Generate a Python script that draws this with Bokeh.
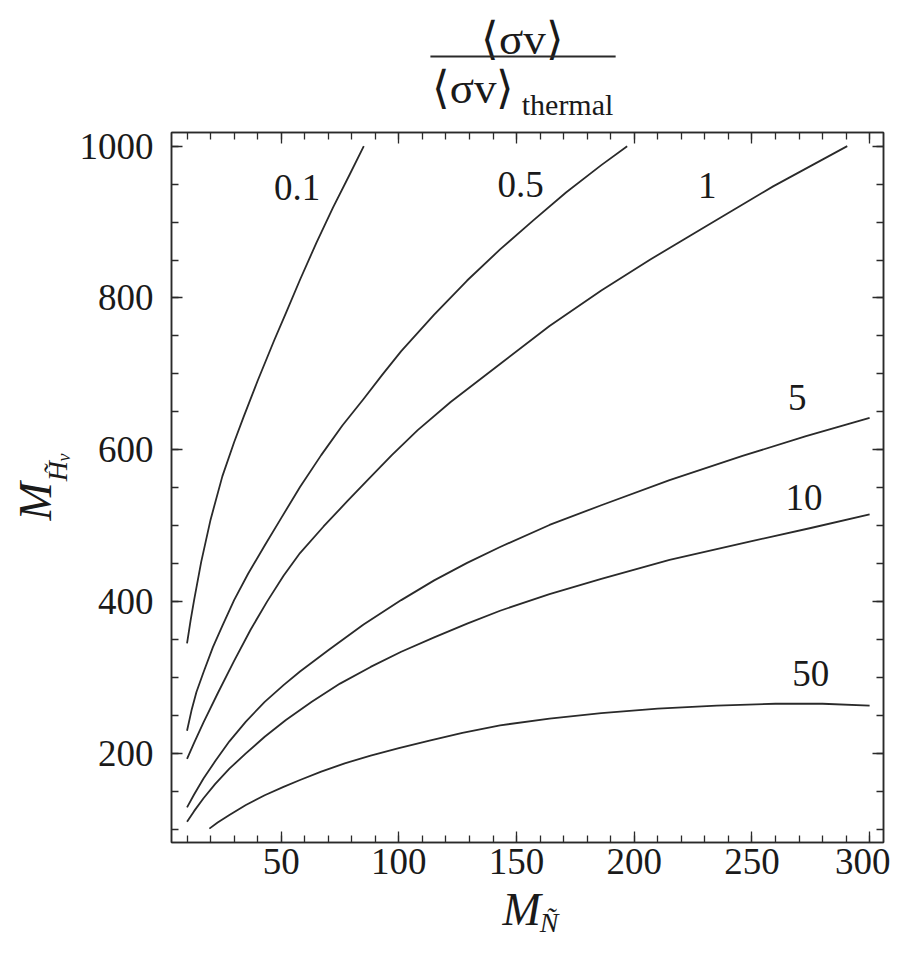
import math
from bokeh.plotting import figure
from bokeh.models import ColumnDataSource, LinearAxis, FixedTicker, Range1d
from bokeh.layouts import column, row
from bokeh.embed import file_html
from bokeh.resources import INLINE
from bokeh.core.properties import value

FONT = "Liberation Serif"
INK = "#2a2a2a"
TXT = "#1a1a1a"

# ---- data (M_N on x, M_H on y), one list pair per contour ----
x_01 = [10, 11.5, 13, 16, 20, 25, 30, 34, 40, 47, 52, 58, 65, 72, 79, 85.1]
y_01 = [345, 375, 402, 452, 508, 565, 610, 643, 691, 744, 780, 824, 873, 919, 962, 1000]

x_05 = [10, 12, 14, 17, 21, 25, 30, 36, 43, 50, 58, 67, 76, 85, 93, 101, 115, 129, 143, 157, 171, 186, 197]
y_05 = [230, 258, 281, 307, 340, 368, 402, 437, 474, 510, 551, 593, 632, 667, 699, 730, 778, 823, 864, 902, 939, 975, 1000]

x_1 = [10, 13, 17, 23, 30, 37, 44, 51, 58, 68, 78, 87, 97, 108, 122, 143, 164, 186, 207, 228, 259, 290.5]
y_1 = [193, 214, 241, 279, 322, 363, 400, 434, 464, 499, 532, 561, 593, 626, 663, 713, 763, 810, 851, 890, 947, 1000]

x_5 = [10, 13, 17, 22, 28, 35, 43, 51, 58, 70, 85, 101, 115, 129, 143, 164, 186, 215, 246, 273, 300]
y_5 = [129, 146, 167, 190, 216, 242, 268, 290, 308, 336, 370, 402, 428, 451, 472, 501, 527, 560, 592, 618, 642]

x_10 = [10, 13, 17, 22, 28, 35, 43, 52, 63, 75, 88, 101, 115, 129, 143, 164, 186, 215, 249, 275, 300]
y_10 = [110, 124, 141, 160, 180, 200, 222, 244, 268, 292, 314, 334, 353, 371, 388, 410, 430, 455, 479, 497, 515]

x_50 = [19.5, 23, 28, 35, 43, 51, 58, 67, 77, 88, 100, 113, 127, 143, 164, 186, 210, 235, 260, 280, 300]
y_50 = [101, 109, 119, 132, 145, 156, 165, 176, 187, 197, 207, 217, 227, 237, 246, 253, 259, 263, 265.5, 265.5, 263]

curve_labels = ["0.1", "0.5", "1", "5", "10", "50"]
label_x = [56.8, 151.7, 231, 269.3, 272.1, 275]
label_y = [946, 950, 948, 669, 537.5, 305]

x_major = [50, 100, 150, 200, 250, 300]
x_minor = list(range(10, 310, 10))
y_major = [200, 400, 600, 800, 1000]
y_minor = list(range(100, 1050, 50))

X_RANGE = (3.4, 305.9)
Y_RANGE = (82.7, 1018)

FW, FH = 712, 710
LEFT, RIGHT = 171, 7
YLAB_W = 74
TITLE_H = 124
TOP_B = 132 - TITLE_H
BOT_B = 40
XLAB_H = 60

# ---- title strip (fraction) ----
t = figure(frame_width=FW, frame_height=TITLE_H, x_range=Range1d(*X_RANGE), y_range=Range1d(0, TITLE_H),
           output_backend="svg", toolbar_location=None,
           min_border_left=LEFT, min_border_right=RIGHT, min_border_top=0, min_border_bottom=0,
           x_axis_location=None, y_axis_location=None, outline_line_color=None)
t.xgrid.grid_line_color = None
t.ygrid.grid_line_color = None
t.text(x=[152.5], y=[86], text=["⟨σv⟩"], text_font=value(FONT), text_font_size="45px",
       text_align="center", text_baseline="middle", text_color=TXT)
t.segment(x0=[113.4], y0=[68], x1=[192.1], y1=[68], line_color=INK, line_width=2)
t.text(x=[131.5], y=[37], text=["⟨σv⟩"], text_font=value(FONT), text_font_size="45px",
       text_align="center", text_baseline="middle", text_color=TXT)
t.text(x=[152.2], y=[20], text=["thermal"], text_font=value(FONT), text_font_size="30px",
       text_align="left", text_baseline="alphabetic", text_color=TXT)

# ---- y label strip ----
yl_fig = figure(frame_width=YLAB_W, frame_height=FH, x_range=Range1d(0, YLAB_W), y_range=Range1d(*Y_RANGE),
                output_backend="svg", toolbar_location=None,
                min_border_left=0, min_border_right=0, min_border_top=TOP_B, min_border_bottom=BOT_B,
                x_axis_location=None, y_axis_location=None, outline_line_color=None)
yl_fig.xgrid.grid_line_color = None
yl_fig.ygrid.grid_line_color = None
yl_fig.text(x=[35], y=[532], text=["M"], text_font=value(FONT), text_font_style="italic",
            text_font_size="46px", text_align="center", text_baseline="middle", angle=math.pi / 2, text_color=TXT)
yl_fig.text(x=[57], y=[572], text=["H̃"], text_font=value(FONT), text_font_style="italic",
            text_font_size="28px", text_align="center", text_baseline="middle", angle=math.pi / 2, text_color=TXT)
yl_fig.text(x=[63], y=[590], text=["ν"], text_font=value(FONT), text_font_style="italic",
            text_font_size="18px", text_align="center", text_baseline="middle", angle=math.pi / 2, text_color=TXT)

# ---- main figure ----
p = figure(frame_width=FW, frame_height=FH, x_range=Range1d(*X_RANGE), y_range=Range1d(*Y_RANGE),
           output_backend="svg", toolbar_location=None,
           min_border_left=LEFT - YLAB_W, min_border_right=RIGHT, min_border_top=TOP_B, min_border_bottom=BOT_B,
           outline_line_color=INK, outline_line_width=1.5)
p.xgrid.grid_line_color = None
p.ygrid.grid_line_color = None

def style(ax, ticks, minor, show):
    ax.ticker = FixedTicker(ticks=ticks, minor_ticks=minor)
    ax.major_tick_in = 11
    ax.major_tick_out = 0
    ax.minor_tick_in = 7
    ax.minor_tick_out = 0
    ax.axis_line_color = INK
    ax.axis_line_width = 1.5
    ax.major_tick_line_color = INK
    ax.major_tick_line_width = 1.3
    ax.minor_tick_line_color = INK
    ax.minor_tick_line_width = 1.3
    ax.major_label_text_font = FONT
    ax.major_label_text_color = TXT
    ax.major_label_text_font_size = "37px"
    if not show:
        ax.major_label_overrides = {tk: "" for tk in ticks}
        ax.major_label_text_font_size = "1px"
        ax.major_label_standoff = 0

xb = p.xaxis[0]
style(xb, x_major, x_minor, True)
xb.major_label_standoff = 6
yb = p.yaxis[0]
style(yb, y_major, y_minor, True)
yb.major_label_standoff = 18

xt = LinearAxis()
style(xt, x_major, x_minor, False)
p.add_layout(xt, "above")
yr = LinearAxis()
style(yr, y_major, y_minor, False)
p.add_layout(yr, "right")

for xs, ys in [(x_01, y_01), (x_05, y_05), (x_1, y_1), (x_5, y_5), (x_10, y_10), (x_50, y_50)]:
    p.line(xs, ys, line_color=INK, line_width=1.8, line_join="round")

src = ColumnDataSource(dict(x=label_x, y=label_y, t=curve_labels))
p.text(x="x", y="y", text="t", source=src, text_font=value(FONT), text_font_size="37px",
       text_align="center", text_baseline="middle", text_color=TXT)

# ---- x label strip ----
xl_fig = figure(frame_width=FW, frame_height=XLAB_H, x_range=Range1d(*X_RANGE), y_range=Range1d(0, XLAB_H),
                output_backend="svg", toolbar_location=None,
                min_border_left=LEFT, min_border_right=RIGHT, min_border_top=0, min_border_bottom=0,
                x_axis_location=None, y_axis_location=None, outline_line_color=None)
xl_fig.xgrid.grid_line_color = None
xl_fig.ygrid.grid_line_color = None
xl_fig.text(x=[152.2], y=[33], text=["M"], text_font=value(FONT), text_font_style="italic",
            text_font_size="46px", text_align="center", text_baseline="middle", text_color=TXT)
xl_fig.text(x=[163.8], y=[20], text=["Ñ"], text_font=value(FONT), text_font_style="italic",
            text_font_size="28px", text_align="center", text_baseline="middle", text_color=TXT)

layout = column(t, row(yl_fig, p), xl_fig)
open("out.html", "w").write(file_html(layout, INLINE))
